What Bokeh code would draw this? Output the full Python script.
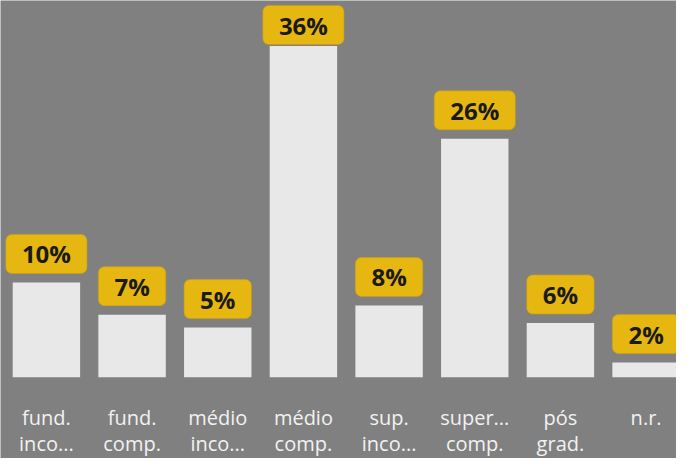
from bokeh.plotting import figure
from bokeh.models import Range1d, ColumnDataSource
from bokeh.core.properties import value
from bokeh.embed import file_html
from bokeh.resources import INLINE

# ---- data ----
cat_line1 = ["fund.", "fund.", "médio", "médio", "sup.", "super...", "pós", "n.r."]
cat_line2 = ["inco...", "comp.", "inco...", "comp.", "inco...", "comp.", "grad.", ""]
shares = [10.3, 6.8, 5.4, 36.0, 7.8, 25.9, 5.9, 1.6]
share_labels = ["10%", "7%", "5%", "36%", "8%", "26%", "6%", "2%"]

BG = "#808080"
BAR = "#e8e8e8"
YEL = "#e6b710"

W, H = 676, 458
Y0, Y1 = -8.82, 40.93
idx = list(range(len(shares)))

# label box: keep 9px above the bar, but never run off the top edge
BOX_H, GAP, TOP_MARGIN = 38, 9, 6
offsets = []
for v in shares:
    bar_top_px = (Y1 - v) * H / (Y1 - Y0)
    offsets.append(-min(GAP, bar_top_px - BOX_H - TOP_MARGIN))

src = ColumnDataSource(dict(
    x=idx,
    v=shares,
    lab=share_labels,
    l1=cat_line1,
    l2=cat_line2,
    zero=[0] * len(shares),
    off=offsets,
))

p = figure(width=W, height=H, output_backend="svg", toolbar_location=None,
           x_range=Range1d(-0.536, 7.355), y_range=Range1d(Y0, Y1),
           min_border=0, background_fill_color=BG, border_fill_color=BG,
           outline_line_color=None)
p.axis.visible = False
p.grid.visible = False

p.vbar(x="x", top="v", bottom=0, width=0.787, source=src,
       fill_color=BAR, line_color=None)

# value labels in rounded yellow boxes
p.text(x="x", y="v", text="lab", source=src,
       text_font=value("Open Sans"), text_font_style="bold",
       text_font_size="24px", text_color="#1a1a1a",
       text_align="center", text_baseline="bottom", y_offset="off",
       background_fill_color=YEL, border_line_color="#c9a012",
       border_line_alpha=0.6, border_radius=6,
       padding=dict(left=16, right=16, top=3, bottom=3))

# category labels (two lines)
common = dict(source=src, text_font=value("Open Sans"), text_font_size="20px",
              text_color="#f2f2f2", text_align="center",
              text_baseline="alphabetic")
p.text(x="x", y="zero", text="l1", y_offset=40, **common)
p.text(x="x", y="zero", text="l2", y_offset=66, **common)

html = file_html(p, INLINE)
html = html.replace("<body>", '<body style="background:%s;">' % BG, 1)
open("out.html", "w").write(html)
